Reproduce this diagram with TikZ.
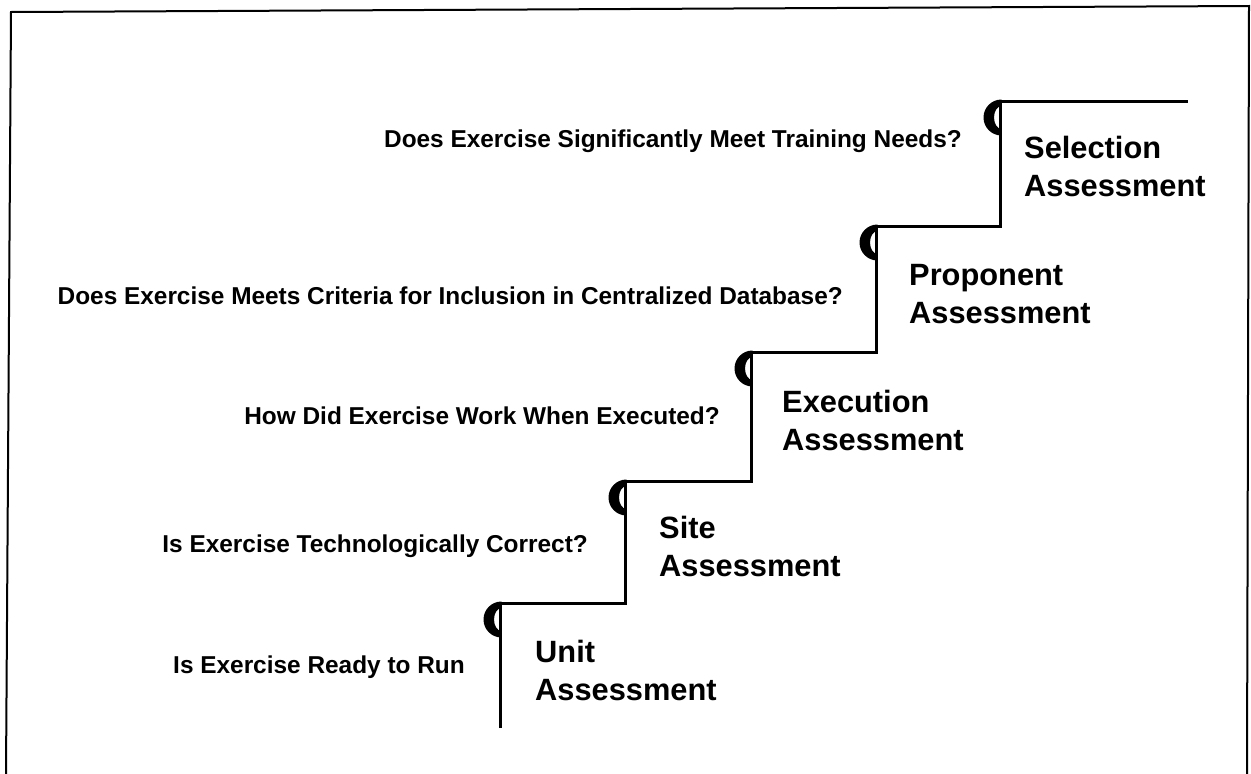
\documentclass[tikz,border=0pt]{standalone}
\usepackage{fontspec}
\setmainfont{Liberation Sans}
\begin{document}
\begin{tikzpicture}[x=1pt,y=-1pt,
  stair/.style={line width=3pt,line join=miter},
  frameline/.style={line width=2pt},
  question/.style={anchor=east,inner sep=0pt,font=\fontsize{24.4}{28}\selectfont\bfseries},
  stagelabel/.style={anchor=north west,inner sep=0pt,align=left,font=\fontsize{30.8}{38}\selectfont\bfseries},
  nosing/.pic={
    \fill (0,0) .. controls +(-9.94,0) and +(0,-9.94) .. ++(-18,18)
      .. controls +(0,9.94) and +(-9.94,0) .. ++(18,18)
      -- ++(0,-6.5)
      .. controls +(-4.14,0) and +(0,6.35) .. ++(-7.5,-11.5)
      .. controls +(0,-6.35) and +(-4.14,0) .. ++(7.5,-11.5) -- cycle;
  }]
\useasboundingbox (0,0) rectangle (1251,774);
% frame
\draw[frameline] (6,774) -- (11,12) -- (1249,6) -- (1247,774);
% staircase
\draw[stair] (500,728) -- (500,603) -- (625,603) -- (625,481) -- (751,481)
  -- (751,352) -- (876,352) -- (876,226) -- (1000,226) -- (1000,101) -- (1188,101);
\pic at (501.5,601.5) {nosing};
\pic at (626.5,479.5) {nosing};
\pic at (752.5,350.5) {nosing};
\pic at (877.5,224.5) {nosing};
\pic at (1001.5,99.5) {nosing};
% stage labels
\node[stagelabel] (unit) at (535,640) {Unit\\Assessment};
\node[stagelabel] (site) at (659,516) {Site\\Assessment};
\node[stagelabel] (exec) at (782,390) {Execution\\Assessment};
\node[stagelabel] (prop) at (909,264) {Proponent\\Assessment};
\node[stagelabel] (sel) at (1024,136) {Selection\\Assessment};
% questions
\node[question] (q1) at (465,667) {Is Exercise Ready to Run};
\node[question] (q2) at (588,546) {Is Exercise Technologically Correct?};
\node[question] (q3) at (720,416) {How Did Exercise Work When Executed?};
\node[question] (q4) at (843,296) {Does Exercise Meets Criteria for Inclusion in Centralized Database?};
\node[question] (q5) at (962,141) {Does Exercise Significantly Meet Training Needs?};
\end{tikzpicture}
\end{document}
